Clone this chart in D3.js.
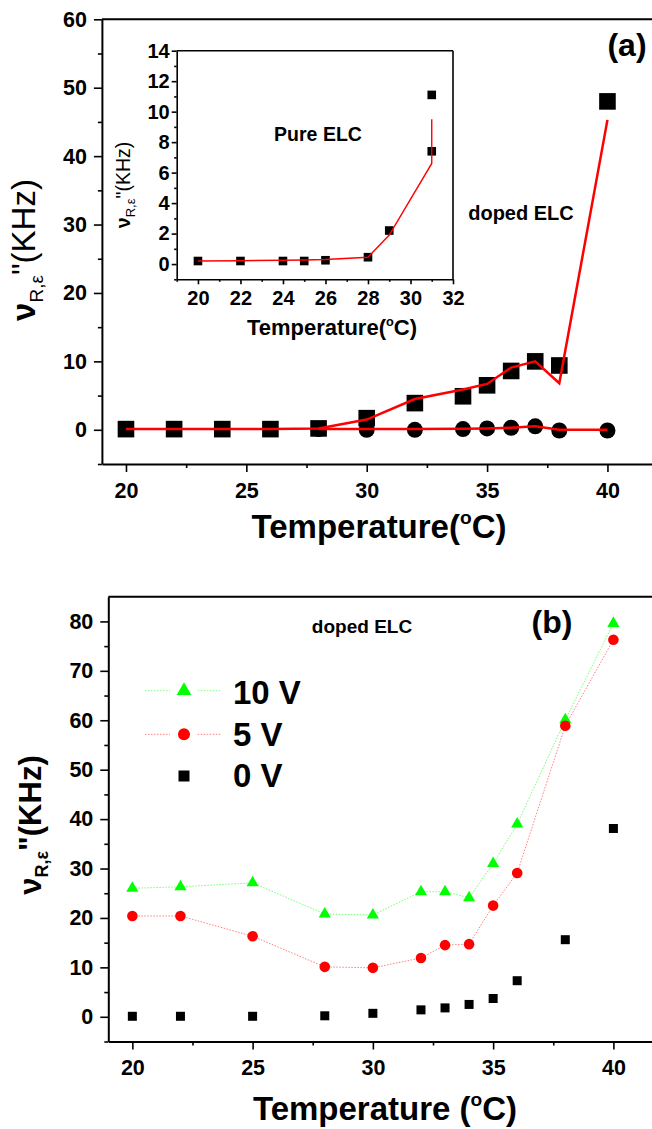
<!DOCTYPE html>
<html>
<head>
<meta charset="utf-8">
<script src="https://cdn.jsdelivr.net/npm/d3@7/dist/d3.min.js"></script>
<style>
  body { margin: 0; background: #fff; }
  svg text { font-family: "Liberation Sans", Arial, sans-serif; font-weight: bold; fill: #000; }
</style>
</head>
<body>
<script>
// ---- (a) doped ELC ----
var tempSquares = [20, 22, 24, 26, 28, 30, 32, 34, 35, 36, 37, 38, 40];
var dopedSquares = [0.1, 0.1, 0.1, 0.1, 0.2, 1.7, 3.9, 4.9, 6.5, 8.6, 10.0, 9.4, 48.0];
var dopedSquareFit = [0.1, 0.1, 0.1, 0.1, 0.2, 1.5, 4.5, 5.9, 6.7, 9.1, 10.0, 6.8, 45.3];
var tempCircles = [28, 30, 32, 34, 35, 36, 37, 38, 40];
var dopedCircles = [0.1, 0.0, 0.0, 0.1, 0.2, 0.3, 0.5, -0.1, -0.1];
var dopedCircleFit = [0.1, 0.1, 0.1, 0.15, 0.2, 0.3, 0.5, 0.0, 0.0];

// ---- (a) inset, pure ELC ----
var tempPure = [20, 22, 24, 25, 26, 28, 29, 31, 31];
var pureSquares = [0.2, 0.2, 0.2, 0.2, 0.25, 0.45, 2.2, 7.4, 11.1];
var pureFit = [0.2, 0.22, 0.25, 0.27, 0.3, 0.45, 1.9, 6.6, 9.5];

// ---- (b) doped ELC under voltage ----
var tempB = [20, 22, 25, 28, 30, 32, 33, 34, 35, 36, 38, 40];
var v10 = [26.0, 26.3, 27.1, 20.8, 20.6, 25.3, 25.3, 24.1, 31.0, 39.0, 60.1, 79.6];
var v5 = [20.4, 20.4, 16.3, 10.1, 9.9, 11.9, 14.5, 14.7, 22.5, 29.1, 58.9, 76.3];
var v0 = [0.1, 0.1, 0.1, 0.2, 0.7, 1.4, 1.8, 2.5, 3.7, 7.3, 15.6, 38.1];
var legendLabels = ["10 V", "5 V", "0 V"];

// tick values
var xMajorMain = [20, 25, 30, 35, 40];
var xMinorMain = [22.5, 27.5, 32.5, 37.5];
var yMajorA = [0, 10, 20, 30, 40, 50, 60];
var yMinorA = [-5, 5, 15, 25, 35, 45, 55];
var xMajorIn = [20, 22, 24, 26, 28, 30, 32];
var xMinorIn = [19, 21, 23, 25, 27, 29, 31];
var yMajorIn = [0, 2, 4, 6, 8, 10, 12, 14];
var yMinorIn = [-1, 1, 3, 5, 7, 9, 11, 13];
var yMajorB = [0, 10, 20, 30, 40, 50, 60, 70, 80];
var yMinorB = [-5, 5, 15, 25, 35, 45, 55, 65, 75];

var svg = d3.select("body").append("svg")
  .attr("width", 652)
  .attr("height", 1129);

// draws left + bottom axes with minor ticks and closes the box
function drawFrame(x, y, o) {
  var x0 = x.range()[0], x1 = x.range()[1];
  var yb = y.range()[0], yt = y.range()[1];

  var gx = svg.append("g").attr("transform", "translate(0," + yb + ")")
    .call(d3.axisBottom(x).tickValues(o.xMajor).tickSize(o.tick).tickSizeOuter(0)
      .tickPadding(o.xPad).tickFormat(d3.format("d")));
  svg.append("g").attr("transform", "translate(0," + yb + ")")
    .call(d3.axisBottom(x).tickValues(o.xMinor).tickSize(o.tick / 2).tickFormat(""))
    .select(".domain").remove();

  var gy = svg.append("g").attr("transform", "translate(" + x0 + ",0)")
    .call(d3.axisLeft(y).tickValues(o.yMajor).tickSize(o.tick).tickSizeOuter(0)
      .tickPadding(o.yPad).tickFormat(d3.format("d")));
  svg.append("g").attr("transform", "translate(" + x0 + ",0)")
    .call(d3.axisLeft(y).tickValues(o.yMinor).tickSize(o.tick / 2).tickFormat(""))
    .select(".domain").remove();

  svg.selectAll(".tick line").attr("stroke", "#000").attr("stroke-width", o.tickW);
  [gx, gy].forEach(function(g) {
    g.select(".domain").attr("stroke", "#000").attr("stroke-width", o.lineW);
    g.selectAll("text").style("font-size", o.font + "px");
  });

  svg.append("line").attr("x1", x0).attr("x2", x1).attr("y1", yt).attr("y2", yt)
    .attr("stroke", "#000").attr("stroke-width", o.lineW);
  svg.append("line").attr("x1", x1).attr("x2", x1).attr("y1", yt).attr("y2", yb)
    .attr("stroke", "#000").attr("stroke-width", o.lineW);
}

function tempTitle(cx, cy, size, label) {
  var t = svg.append("text").attr("x", cx).attr("y", cy)
    .attr("text-anchor", "middle").style("font-size", size + "px");
  t.append("tspan").text(label);
  t.append("tspan").attr("dy", -size * 0.42).style("font-size", (size * 0.58) + "px").text("o");
  t.append("tspan").attr("dy", size * 0.42).text("C)");
}

function nuTitle(bx, cy, size, subSize, kWeight) {
  var t = svg.append("text")
    .attr("transform", "translate(" + bx + "," + cy + ") rotate(-90)")
    .attr("text-anchor", "middle").style("font-size", size + "px");
  t.append("tspan").text("ν");
  t.append("tspan").attr("dy", size * 0.24).style("font-size", subSize + "px")
    .style("font-weight", kWeight).text("R,ε");
  t.append("tspan").attr("dy", -size * 0.24).style("font-weight", kWeight).text("\"");
  t.append("tspan").style("font-weight", kWeight).text("(KHz)");
}

// ================= panel (a) =================
var xA = d3.scaleLinear().domain([19, 42]).range([101.9, 655.6]);
var yA = d3.scaleLinear().domain([-5, 60]).range([464, 19.3]);

drawFrame(xA, yA, {
  xMajor: xMajorMain, xMinor: xMinorMain, yMajor: yMajorA, yMinor: yMinorA,
  tick: 8, xPad: 11, yPad: 7, lineW: 2, tickW: 1.6, font: 21.5
});

var lineA = d3.line()
  .x(function(d) { return xA(d[0]); })
  .y(function(d) { return yA(d[1]); });

svg.append("g").selectAll("circle")
  .data(d3.zip(tempCircles, dopedCircles))
  .enter().append("circle")
  .attr("cx", function(d) { return xA(d[0]); })
  .attr("cy", function(d) { return yA(d[1]); })
  .attr("r", 8)
  .attr("fill", "#000");

svg.append("g").selectAll("rect")
  .data(d3.zip(tempSquares, dopedSquares))
  .enter().append("rect")
  .attr("x", function(d) { return xA(d[0]) - 8.3; })
  .attr("y", function(d) { return yA(d[1]) - 8.3; })
  .attr("width", 16.6)
  .attr("height", 16.6)
  .attr("fill", "#000");

svg.append("path").datum(d3.zip(tempSquares, dopedSquareFit))
  .attr("fill", "none").attr("stroke", "#ff0000").attr("stroke-width", 2.5)
  .attr("d", lineA);
svg.append("path").datum(d3.zip(tempCircles, dopedCircleFit))
  .attr("fill", "none").attr("stroke", "#ff0000").attr("stroke-width", 2.5)
  .attr("d", lineA);

nuTitle(35, 250, 33, 19, "normal");
tempTitle(379, 538, 33, "Temperature(");

svg.append("text").attr("x", 627).attr("y", 56).attr("text-anchor", "middle")
  .style("font-size", "32px").text("(a)");
svg.append("text").attr("x", 521).attr("y", 220).attr("text-anchor", "middle")
  .style("font-size", "20px").text("doped ELC");

// ---------- inset ----------
var xIn = d3.scaleLinear().domain([19, 32]).range([176.7, 453]);
var yIn = d3.scaleLinear().domain([-1, 14]).range([279.3, 50.7]);

drawFrame(xIn, yIn, {
  xMajor: xMajorIn, xMinor: xMinorIn, yMajor: yMajorIn, yMinor: yMinorIn,
  tick: 5, xPad: 7, yPad: 2, lineW: 1.6, tickW: 1.2, font: 20
});

svg.append("g").selectAll("rect")
  .data(d3.zip(tempPure, pureSquares))
  .enter().append("rect")
  .attr("x", function(d) { return xIn(d[0]) - 4.3; })
  .attr("y", function(d) { return yIn(d[1]) - 4.3; })
  .attr("width", 8.6)
  .attr("height", 8.6)
  .attr("fill", "#000");

svg.append("path").datum(d3.zip(tempPure, pureFit))
  .attr("fill", "none").attr("stroke", "#ff0000").attr("stroke-width", 1.4)
  .attr("d", d3.line().x(function(d) { return xIn(d[0]); }).y(function(d) { return yIn(d[1]); }));

nuTitle(130, 185, 19.5, 13, "normal");
tempTitle(332, 335, 22, "Temperature(");
svg.append("text").attr("x", 318).attr("y", 141).attr("text-anchor", "middle")
  .style("font-size", "19.5px").text("Pure ELC");

// ================= panel (b) =================
var xB = d3.scaleLinear().domain([19, 42]).range([108.3, 661.5]);
var yB = d3.scaleLinear().domain([-5, 85]).range([1041.5, 596.7]);

drawFrame(xB, yB, {
  xMajor: xMajorMain, xMinor: xMinorMain, yMajor: yMajorB, yMinor: yMinorB,
  tick: 8, xPad: 10, yPad: 7, lineW: 2, tickW: 1.6, font: 21.5
});

var lineB = d3.line()
  .x(function(d) { return xB(d[0]); })
  .y(function(d) { return yB(d[1]); });

var tri = d3.symbol().type(d3.symbolTriangle).size(64);
var triLegend = d3.symbol().type(d3.symbolTriangle).size(95);

svg.append("path").datum(d3.zip(tempB, v10))
  .attr("fill", "none").attr("stroke", "#00ff00").attr("stroke-width", 1)
  .attr("stroke-opacity", 0.55).attr("stroke-dasharray", "1.5,1.5").attr("d", lineB);
svg.append("path").datum(d3.zip(tempB, v5))
  .attr("fill", "none").attr("stroke", "#ff0000").attr("stroke-width", 1)
  .attr("stroke-opacity", 0.5).attr("stroke-dasharray", "1.5,1.5").attr("d", lineB);

svg.append("g").selectAll("rect")
  .data(d3.zip(tempB, v0))
  .enter().append("rect")
  .attr("x", function(d) { return xB(d[0]) - 4.5; })
  .attr("y", function(d) { return yB(d[1]) - 4.5; })
  .attr("width", 9)
  .attr("height", 9)
  .attr("fill", "#000");

svg.append("g").selectAll("path")
  .data(d3.zip(tempB, v10))
  .enter().append("path")
  .attr("transform", function(d) { return "translate(" + xB(d[0]) + "," + yB(d[1]) + ")"; })
  .attr("d", tri)
  .attr("fill", "#00ff00");

svg.append("g").selectAll("circle")
  .data(d3.zip(tempB, v5))
  .enter().append("circle")
  .attr("cx", function(d) { return xB(d[0]); })
  .attr("cy", function(d) { return yB(d[1]); })
  .attr("r", 5.3)
  .attr("fill", "#ff0000");

// legend
var legendY = [690.7, 734.3, 776];
var legendBase = [704, 745.7, 786.7];
[["#00ff00", true], ["#ff0000", true], ["#000", false]].forEach(function(s, i) {
  if (s[1]) {
    [[145, 170], [197.7, 221]].forEach(function(seg) {
      svg.append("line").attr("x1", seg[0]).attr("x2", seg[1])
        .attr("y1", legendY[i]).attr("y2", legendY[i])
        .attr("stroke", s[0]).attr("stroke-width", 1).attr("stroke-opacity", 0.5)
        .attr("stroke-dasharray", "1.5,1.5");
    });
  }
  if (i === 0) {
    svg.append("path").attr("transform", "translate(184," + legendY[i] + ")")
      .attr("d", triLegend).attr("fill", s[0]);
  } else if (i === 1) {
    svg.append("circle").attr("cx", 184).attr("cy", legendY[i]).attr("r", 6).attr("fill", s[0]);
  } else {
    svg.append("rect").attr("x", 178.5).attr("y", legendY[i] - 5.5)
      .attr("width", 11).attr("height", 11).attr("fill", s[0]);
  }
  svg.append("text").attr("x", 233).attr("y", legendBase[i])
    .style("font-size", "33px").text(legendLabels[i]);
});

nuTitle(41, 825, 31, 18, "bold");
tempTitle(385, 1120, 33, "Temperature (");

svg.append("text").attr("x", 552).attr("y", 633).attr("text-anchor", "middle")
  .style("font-size", "32px").text("(b)");
svg.append("text").attr("x", 362).attr("y", 633).attr("text-anchor", "middle")
  .style("font-size", "19px").text("doped ELC");
</script>
</body>
</html>
